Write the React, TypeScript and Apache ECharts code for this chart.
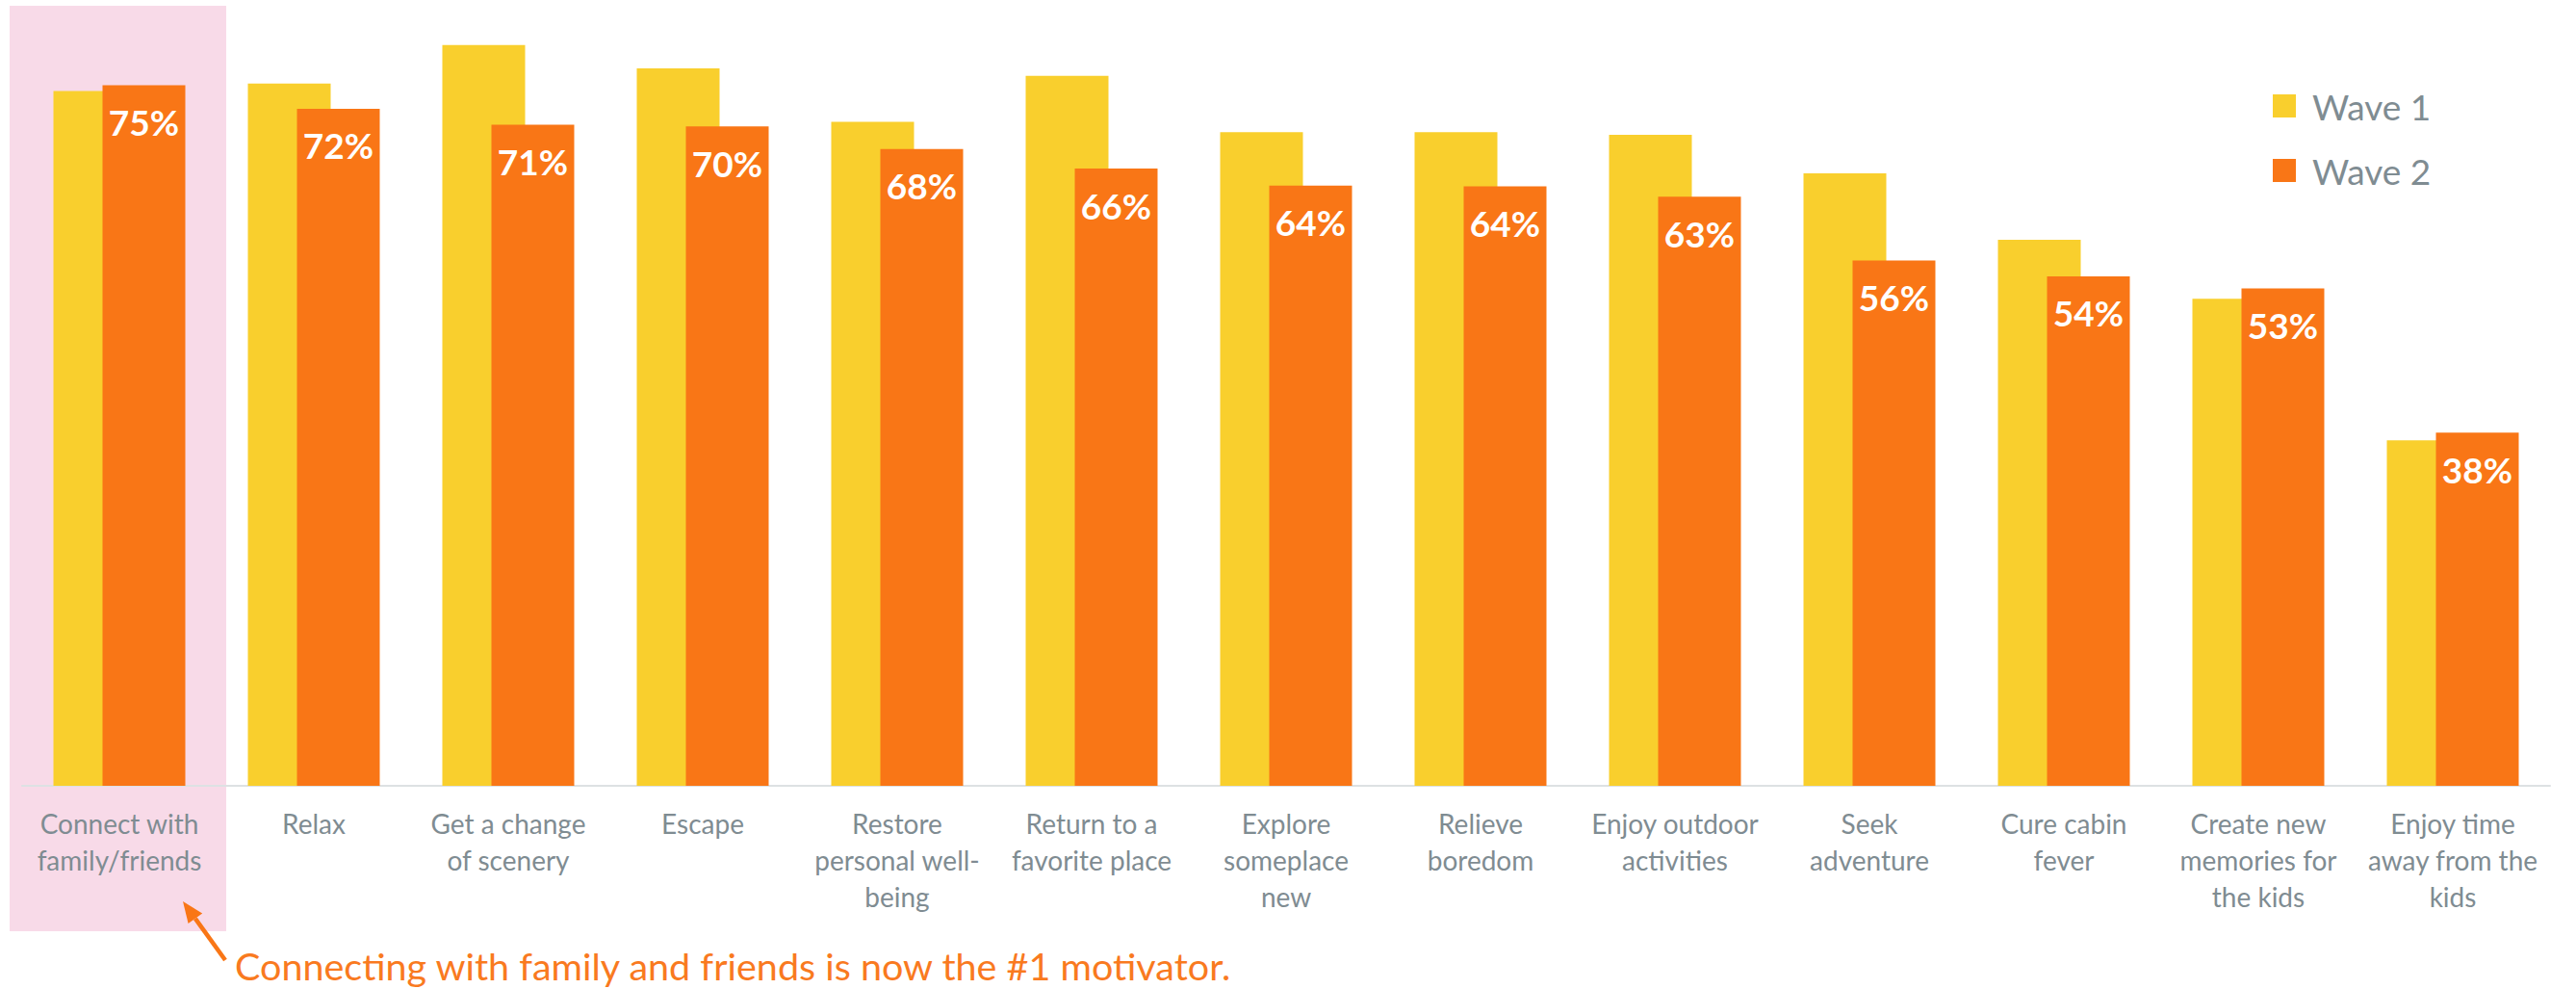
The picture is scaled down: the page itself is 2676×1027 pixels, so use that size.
import React, { useEffect, useRef } from "react";
import * as echarts from "echarts";

const categories = [
  "Connect with\nfamily/friends",
  "Relax",
  "Get a change\nof scenery",
  "Escape",
  "Restore\npersonal well-\nbeing",
  "Return to a\nfavorite place",
  "Explore\nsomeplace\nnew",
  "Relieve\nboredom",
  "Enjoy outdoor\nactivities",
  "Seek\nadventure",
  "Cure cabin\nfever",
  "Create new\nmemories for\nthe kids",
  "Enjoy time\naway from the\nkids",
];

const wave1 = [74.2, 75.0, 79.1, 76.6, 70.9, 75.8, 69.8, 69.8, 69.5, 65.4, 58.3, 52.0, 36.9];
const wave2 = [74.8, 72.3, 70.6, 70.4, 68.0, 65.9, 64.1, 64.0, 62.9, 56.1, 54.4, 53.1, 37.7];

const seriesNames = ["Wave 1", "Wave 2"];
const annotation = "Connecting with family and friends is now the #1 motivator.";

const YELLOW = "#F9CF2D";
const ORANGE = "#F97616";
const GREY = "#7F8C92";
const FONT = "Lato, 'Open Sans', sans-serif";

export default function App() {
  const ref = useRef<HTMLDivElement>(null);

  useEffect(() => {
    if (!ref.current) return;
    const chart = echarts.init(ref.current, undefined, { renderer: "svg" });

    // arrow geometry
    const tip = [190, 936];
    const tail = [234, 997];
    const dx = tip[0] - tail[0];
    const dy = tip[1] - tail[1];
    const len = Math.sqrt(dx * dx + dy * dy);
    const ux = dx / len;
    const uy = dy / len;
    const headLen = 22;
    const headHalf = 9;
    const bx = tip[0] - ux * headLen;
    const by = tip[1] - uy * headLen;
    const nx = -uy;
    const ny = ux;

    chart.setOption({
      animation: false,
      backgroundColor: "#ffffff",
      textStyle: { fontFamily: FONT },
      grid: { left: 23, right: 27, top: 38, bottom: 211, containLabel: false },
      legend: {
        orient: "vertical",
        left: 2361,
        top: 90,
        padding: 0,
        itemWidth: 24,
        itemHeight: 24,
        itemGap: 27,
        icon: "rect",
        data: seriesNames,
        textStyle: {
          fontFamily: FONT,
          fontSize: 37,
          lineHeight: 40,
          color: GREY,
          padding: [0, 0, 0, 12],
        },
      },
      xAxis: {
        type: "category",
        data: categories,
        axisLine: { show: true, lineStyle: { color: "#DDE1E3", width: 2 } },
        axisTick: { show: false },
        axisLabel: {
          interval: 0,
          margin: 20,
          fontFamily: FONT,
          fontSize: 28,
          lineHeight: 38,
          color: GREY,
          align: "center",
        },
        splitLine: { show: false },
      },
      yAxis: {
        type: "value",
        min: 0,
        max: 80,
        show: false,
        splitLine: { show: false },
      },
      graphic: {
        elements: [
          {
            type: "rect",
            z: -100,
            silent: true,
            shape: { x: 10, y: 6, width: 225, height: 961 },
            style: { fill: "#F8DAE8" },
          },
          {
            type: "line",
            z: 10,
            silent: true,
            shape: { x1: tail[0], y1: tail[1], x2: bx, y2: by },
            style: { stroke: ORANGE, lineWidth: 4.5 },
          },
          {
            type: "polygon",
            z: 10,
            silent: true,
            shape: {
              points: [
                [tip[0], tip[1]],
                [bx + nx * headHalf, by + ny * headHalf],
                [bx - nx * headHalf, by - ny * headHalf],
              ],
            },
            style: { fill: ORANGE },
          },
          {
            type: "text",
            z: 10,
            silent: true,
            x: 244,
            y: 1002,
            style: {
              text: annotation,
              fill: "#F97A1F",
              font: "39.5px " + FONT,
              align: "left",
              verticalAlign: "middle",
            },
          },
        ],
      },
      series: [
        {
          name: seriesNames[0],
          type: "bar",
          data: wave1,
          barWidth: 86,
          barGap: "-40.7%",
          itemStyle: { color: YELLOW },
          label: { show: false },
        },
        {
          name: seriesNames[1],
          type: "bar",
          data: wave2,
          barWidth: 86,
          barGap: "-40.7%",
          itemStyle: { color: ORANGE },
          label: {
            show: true,
            position: ["50%", 38],
            align: "center",
            verticalAlign: "middle",
            fontFamily: FONT,
            fontWeight: "bold",
            fontSize: 37,
            color: "#ffffff",
            formatter: (p: any) => Math.round(p.value) + "%",
          },
        },
      ],
    });

    return () => chart.dispose();
  }, []);

  return (
    <div
      ref={ref}
      style={{ position: "fixed", left: 0, top: 0, width: 2676, height: 1027 }}
    />
  );
}
